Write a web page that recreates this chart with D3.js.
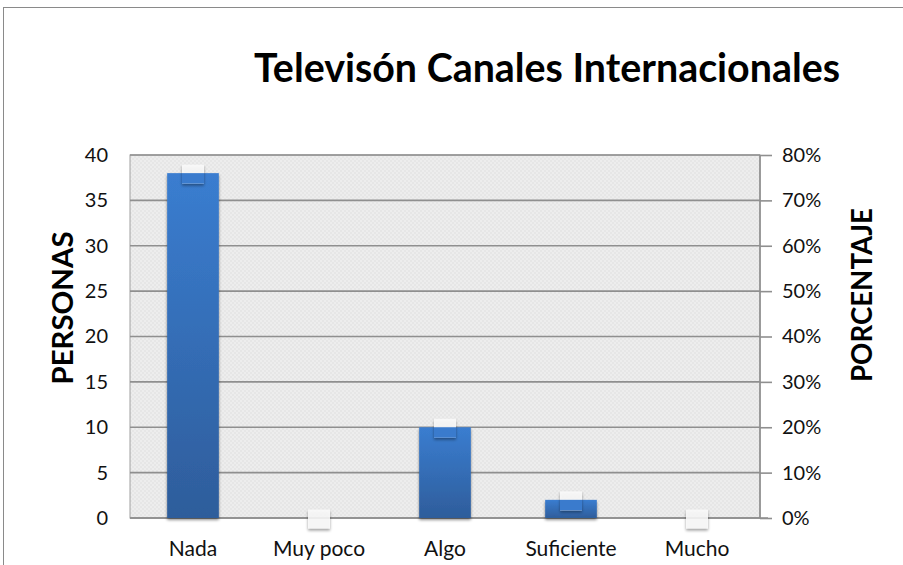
<!DOCTYPE html>
<html>
<head>
<meta charset="utf-8">
<script src="https://cdn.jsdelivr.net/npm/d3@7"></script>
<style>
  body { margin: 0; background: #fff; }
  svg { display: block; font-family: Lato, "Open Sans", sans-serif; }
</style>
</head>
<body>
<div id="chart"></div>
<script>
// data
var categories = ["Nada", "Muy poco", "Algo", "Suficiente", "Mucho"];
var personas = [38, 0, 10, 2, 0];
var porcentaje = [0.76, 0, 0.20, 0.04, 0];
var leftTicks = [0, 5, 10, 15, 20, 25, 30, 35, 40];
var rightTicks = [0, 0.1, 0.2, 0.3, 0.4, 0.5, 0.6, 0.7, 0.8];

var width = 903,
    height = 565;

var plot = {left: 130, right: 760, top: 155, bottom: 518};
var font = "Lato, 'Open Sans', sans-serif";

var svg = d3.select("#chart").append("svg")
    .attr("width", width)
    .attr("height", height);

var defs = svg.append("defs");

// checkered plot background
var pat = defs.append("pattern")
    .attr("id", "checker")
    .attr("width", 4).attr("height", 4)
    .attr("patternUnits", "userSpaceOnUse");
pat.append("rect").attr("width", 4).attr("height", 4).attr("fill", "#e6e6e6");
pat.append("rect").attr("width", 2).attr("height", 2).attr("fill", "#ededed");
pat.append("rect").attr("x", 2).attr("y", 2).attr("width", 2).attr("height", 2).attr("fill", "#ededed");

var grad = defs.append("linearGradient")
    .attr("id", "barGrad")
    .attr("x1", 0).attr("y1", 0).attr("x2", 0).attr("y2", 1);
grad.append("stop").attr("offset", "0%").attr("stop-color", "#3a7dd0");
grad.append("stop").attr("offset", "100%").attr("stop-color", "#2e5d9b");

var shadow = defs.append("filter")
    .attr("id", "shadow")
    .attr("x", "-30%").attr("y", "-30%").attr("width", "160%").attr("height", "160%");
shadow.append("feGaussianBlur").attr("in", "SourceAlpha").attr("stdDeviation", 1.6);
shadow.append("feOffset").attr("dx", 0).attr("dy", 2).attr("result", "off");
shadow.append("feComponentTransfer").append("feFuncA").attr("type", "linear").attr("slope", 0.45);
var merge = shadow.append("feMerge");
merge.append("feMergeNode");
merge.append("feMergeNode").attr("in", "SourceGraphic");

// outer chart border
svg.append("rect")
    .attr("x", 3.5).attr("y", 7.5)
    .attr("width", width + 10).attr("height", height + 10)
    .attr("fill", "none")
    .attr("stroke", "#8a8a8a");

var x = d3.scaleBand()
    .domain(categories)
    .range([plot.left, plot.right])
    .paddingInner(0.59)
    .paddingOuter(0.295);

var xc = d3.scaleBand().domain(categories).range([plot.left, plot.right]);

var y = d3.scaleLinear().domain([0, 40]).range([plot.bottom, plot.top]);
var y2 = d3.scaleLinear().domain([0, 0.8]).range([plot.bottom, plot.top]);

// plot area
svg.append("rect")
    .attr("x", plot.left).attr("y", plot.top)
    .attr("width", plot.right - plot.left)
    .attr("height", plot.bottom - plot.top)
    .attr("fill", "url(#checker)")
    .attr("stroke", "#a0a0a0");

// gridlines
svg.append("g")
    .selectAll("line")
    .data(leftTicks)
    .enter().append("line")
    .attr("x1", plot.left).attr("x2", plot.right)
    .attr("y1", function(d) { return y(d); })
    .attr("y2", function(d) { return y(d); })
    .attr("stroke", "#8f8f8f")
    .attr("stroke-width", 1.6);

// left axis labels
svg.append("g")
    .attr("transform", "translate(" + (plot.left - 22) + ",0)")
    .call(d3.axisLeft(y).tickValues(leftTicks).tickSize(0).tickPadding(0))
    .attr("font-family", font)
    .call(function(g) {
        g.select(".domain").remove();
        g.selectAll("text").attr("font-size", 20).attr("fill", "#111");
    });

// right axis
svg.append("g")
    .attr("transform", "translate(" + plot.right + ",0)")
    .call(d3.axisRight(y2).tickValues(rightTicks).tickSize(12).tickPadding(10)
        .tickFormat(d3.format(".0%")))
    .attr("font-family", font)
    .call(function(g) {
        g.select(".domain").attr("stroke", "#8f8f8f").attr("stroke-width", 1.6)
            .attr("d", "M0," + plot.top + "V" + plot.bottom);
        g.selectAll("line").attr("stroke", "#8f8f8f").attr("stroke-width", 1.6);
        g.selectAll("text").attr("font-size", 20).attr("fill", "#111");
    });

// bottom axis
svg.append("g")
    .attr("transform", "translate(0," + plot.bottom + ")")
    .call(d3.axisBottom(xc).tickSize(0).tickPadding(24))
    .attr("font-family", font)
    .call(function(g) {
        g.select(".domain").attr("stroke", "#8f8f8f").attr("stroke-width", 1.6)
            .attr("d", "M" + plot.left + ",0H" + (plot.right + 8));
        g.selectAll("text").attr("font-size", 21).attr("fill", "#111")
            .attr("dy", null).attr("y", 38);
    });

// bars
svg.append("g")
    .selectAll("rect")
    .data(personas)
    .enter().append("rect")
    .attr("x", function(d, i) { return x(categories[i]); })
    .attr("y", function(d) { return y(d); })
    .attr("width", x.bandwidth())
    .attr("height", function(d) { return y(0) - y(d); })
    .attr("fill", "url(#barGrad)")
    .attr("filter", function(d) { return d > 0 ? "url(#shadow)" : null; });

// porcentaje markers
var mw = 22, mh = 19;
var mk = svg.append("g")
    .selectAll("g")
    .data(porcentaje)
    .enter().append("g");

mk.append("rect")
    .attr("x", function(d, i) { return xc(categories[i]) + xc.bandwidth() / 2 - mw / 2; })
    .attr("y", function(d) { return y2(d) - mh / 2 + 1; })
    .attr("width", mw)
    .attr("height", mh)
    .attr("fill", "#fbfbfb")
    .attr("fill-opacity", 0.85)
    .attr("filter", "url(#shadow)");

// where a marker sits on its bar, the bar colour shows through
mk.filter(function(d, i) { return personas[i] > 0; })
    .append("rect")
    .attr("x", function(d) { return xc(categories[porcentaje.indexOf(d)]) + xc.bandwidth() / 2 - mw / 2; })
    .attr("y", function(d) { return y(personas[porcentaje.indexOf(d)]); })
    .attr("width", mw)
    .attr("height", function(d) {
        var i = porcentaje.indexOf(d);
        return (y2(d) + mh / 2 + 1) - y(personas[i]);
    })
    .attr("fill", "#3a7bcd");

// title
svg.append("text")
    .attr("x", 547).attr("y", 82)
    .attr("text-anchor", "middle")
    .attr("font-size", 40)
    .attr("font-weight", "bold")
    .attr("fill", "#000")
    .attr("textLength", 586)
    .attr("lengthAdjust", "spacingAndGlyphs")
    .text("Televisón Canales Internacionales");

// axis titles
svg.append("text")
    .attr("transform", "translate(73,308) rotate(-90)")
    .attr("text-anchor", "middle")
    .attr("font-size", 28)
    .attr("font-weight", "bold")
    .attr("textLength", 153)
    .attr("lengthAdjust", "spacingAndGlyphs")
    .text("PERSONAS");

svg.append("text")
    .attr("transform", "translate(872,295) rotate(-90)")
    .attr("text-anchor", "middle")
    .attr("font-size", 28)
    .attr("font-weight", "bold")
    .attr("textLength", 174)
    .attr("lengthAdjust", "spacingAndGlyphs")
    .text("PORCENTAJE");
</script>
</body>
</html>
